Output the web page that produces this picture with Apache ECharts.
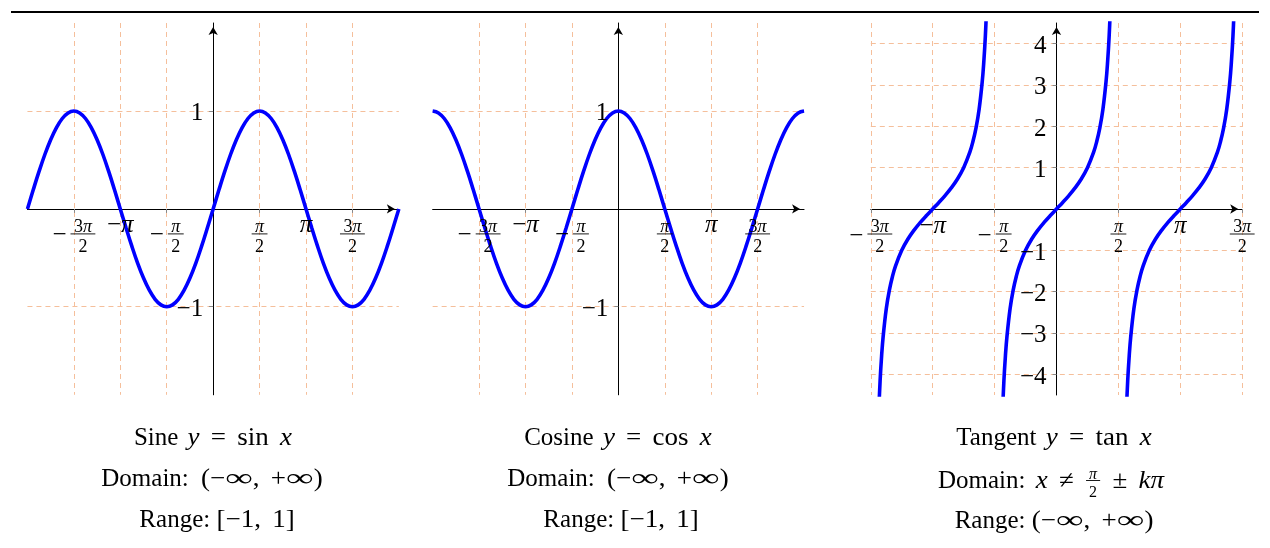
<!DOCTYPE html>
<html><head><meta charset="utf-8">
<script src="https://cdn.jsdelivr.net/npm/echarts@6/dist/echarts.min.js"></script>
<style>html,body{margin:0;padding:0;background:#fff}#c{width:1270px;height:548px}</style>
</head><body><div id="c"></div>
<script>
// ---------- DATA (x measured in units of π/2) ----------
const trigX = [-4,-3.875,-3.75,-3.625,-3.5,-3.375,-3.25,-3.125,-3,-2.875,-2.75,-2.625,-2.5,-2.375,-2.25,-2.125,
               -2,-1.875,-1.75,-1.625,-1.5,-1.375,-1.25,-1.125,-1,-0.875,-0.75,-0.625,-0.5,-0.375,-0.25,-0.125,
               0,0.125,0.25,0.375,0.5,0.625,0.75,0.875,1,1.125,1.25,1.375,1.5,1.625,1.75,1.875,
               2,2.125,2.25,2.375,2.5,2.625,2.75,2.875,3,3.125,3.25,3.375,3.5,3.625,3.75,3.875,4];
const sineY = [0,0.195,0.383,0.556,0.707,0.831,0.924,0.981,1,0.981,0.924,0.831,0.707,0.556,0.383,0.195,
               0,-0.195,-0.383,-0.556,-0.707,-0.831,-0.924,-0.981,-1,-0.981,-0.924,-0.831,-0.707,-0.556,-0.383,-0.195,
               0,0.195,0.383,0.556,0.707,0.831,0.924,0.981,1,0.981,0.924,0.831,0.707,0.556,0.383,0.195,
               0,-0.195,-0.383,-0.556,-0.707,-0.831,-0.924,-0.981,-1,-0.981,-0.924,-0.831,-0.707,-0.556,-0.383,-0.195,0];
const cosineY = [1,0.981,0.924,0.831,0.707,0.556,0.383,0.195,0,-0.195,-0.383,-0.556,-0.707,-0.831,-0.924,-0.981,
                 -1,-0.981,-0.924,-0.831,-0.707,-0.556,-0.383,-0.195,0,0.195,0.383,0.556,0.707,0.831,0.924,0.981,
                 1,0.981,0.924,0.831,0.707,0.556,0.383,0.195,0,-0.195,-0.383,-0.556,-0.707,-0.831,-0.924,-0.981,
                 -1,-0.981,-0.924,-0.831,-0.707,-0.556,-0.383,-0.195,0,0.195,0.383,0.556,0.707,0.831,0.924,0.981,1];
const tanOffsets = [-0.875,-0.85,-0.825,-0.8,-0.75,-0.7,-0.65,-0.6,-0.5,-0.4,-0.3,-0.2,-0.1,0,
                    0.1,0.2,0.3,0.4,0.5,0.6,0.65,0.7,0.75,0.8,0.825,0.85,0.875];
const tanValues = [-5.027,-4.165,-3.546,-3.078,-2.414,-1.963,-1.632,-1.376,-1,-0.727,-0.51,-0.325,-0.158,0,
                   0.158,0.325,0.51,0.727,1,1.376,1.632,1.963,2.414,3.078,3.546,4.165,5.027];
const tanBranchCenters = [-2, 0, 2];

const xTickUnits = [-3,-2,-1,1,2,3];
const xTickLabels = ['−3π/2','−π','−π/2','π/2','π','3π/2'];
const trigYTicks = [-1, 1];
const tanYTicks = [-4,-3,-2,-1,1,2,3,4];

const captionLines = [
  ['Sine $y = sin x$', 'Domain: $(−∞, +∞)$', 'Range: $[−1, 1]$'],
  ['Cosine $y = cos x$', 'Domain: $(−∞, +∞)$', 'Range: $[−1, 1]$'],
  ['Tangent $y = tan x$', 'Domain: $x ≠ {π/2} ± kπ$', 'Range: $(−∞, +∞)$']
];

// ---------- text helpers ----------
const FAM = '"Liberation Serif", "Times New Roman", serif';
const mctx = document.createElement('canvas').getContext('2d');
function fontStr(size, italic){ return (italic ? 'italic ' : '') + size + 'px ' + FAM; }
function measure(t, size, italic){ mctx.font = fontStr(size, italic); return mctx.measureText(t).width; }
function T(text, x, baseline, size, italic, align, sx){
  align = align || 'left';
  const el = {type:'text', x:x, y: baseline - 0.22*size, silent:true,
    style:{text:text, font:fontStr(size, italic), fill:'#000',
           align:align, textAlign:align, verticalAlign:'middle', textVerticalAlign:'middle'}};
  if (sx) { el.scaleX = sx; el.originX = 0; el.originY = 0; }
  return el;
}
function mathRuns(s){ return (s.match(/π+|[^π]+/g) || []).map(r => ({t:r, it:r.indexOf('π') >= 0})); }
function runsWidth(runs, size){ return runs.reduce((a,r) => a + measure(r.t, size, r.it), 0); }
function drawRuns(runs, left, baseline, size){
  const els = []; let x = left;
  runs.forEach(r => { els.push(T(r.t, x, baseline, size, r.it, 'left')); x += measure(r.t, size, r.it); });
  return els;
}
function fraction(num, den, cx, barY, size){
  const nr = mathRuns(num), dr = mathRuns(den);
  const nw = runsWidth(nr, size), dw = runsWidth(dr, size);
  const bw = Math.max(nw, dw) + 0.38*size;
  let els = [];
  els = els.concat(drawRuns(nr, cx - nw/2, barY - 2.5, size));
  els = els.concat(drawRuns(dr, cx - dw/2, barY + 5 + 0.66*size, size));
  els.push({type:'line', silent:true, shape:{x1:cx - bw/2, y1:barY, x2:cx + bw/2, y2:barY},
            style:{stroke:'#000', lineWidth:0.9}});
  return {els:els, width:bw};
}
function fracWidth(num, den, size){
  return Math.max(runsWidth(mathRuns(num), size), runsWidth(mathRuns(den), size)) + 0.38*size;
}

// axis tick label (drawn at pixel px,py of the tick on the x axis)
const MAIN = 25, SCRIPT = 18;
function tickLabelEls(lab, px, py){
  const neg = lab.charAt(0) === '−';
  const body = neg ? lab.slice(1) : lab;
  const els = [];
  if (body.indexOf('/') >= 0) {
    const parts = body.split('/');
    const fw = fracWidth(parts[0], parts[1], SCRIPT);
    const mw = neg ? measure('−', MAIN, false) : 0;
    const gap = neg ? 4 : 0;
    const total = mw + gap + fw;
    const left = px - total/2;
    const barY = py + 25;
    if (neg) els.push(T('−', left, barY + 0.3*MAIN, MAIN, false, 'left'));
    const f = fraction(parts[0], parts[1], left + mw + gap + fw/2, barY, SCRIPT);
    return els.concat(f.els);
  } else {
    const runs = mathRuns(lab);
    const w = runsWidth(runs, MAIN);
    return drawRuns(runs, px - w/2, py + 22.5, MAIN);
  }
}
function yLabelEls(v, px, py){
  const s = v < 0 ? '\u2212' + (-v) : String(v);
  return [T(s, px - 10, py + 0.33*MAIN, MAIN, false, 'right')];
}

// caption: words at natural width; math with wide ∞ and roomier spaces
const CAP = 25, CAPFRAC = 16, GLYPH = 1.08, INF = 1.55, SPACE_PLUS = 5;
function mathItems(m){
  return (m.match(/sin|cos|tan|\{[^}]+\}|\s+|./g) || []).map(t => {
    if (/^\s+$/.test(t)) return {kind:'s', w:measure(t, CAP, false) + SPACE_PLUS};
    if (t === 'sin' || t === 'cos' || t === 'tan') return {kind:'t', t:t, it:false, sx:GLYPH, w:measure(t, CAP, false)*GLYPH};
    if (t.charAt(0) === '{') { const p = t.slice(1,-1).split('/'); return {kind:'f', num:p[0], den:p[1], w:fracWidth(p[0], p[1], CAPFRAC) + 2}; }
    if (t === '∞') return {kind:'t', t:t, it:false, sx:INF, w:measure(t, CAP, false)*INF};
    if (/^[A-Za-zπ]$/.test(t)) return {kind:'t', t:t, it:true, sx:GLYPH, w:measure(t, CAP, true)*GLYPH};
    return {kind:'t', t:t, it:false, sx:GLYPH, w:measure(t, CAP, false)*GLYPH};
  });
}
function captionEls(str, cx, baseline, gapExtra){
  const i0 = str.indexOf('$');
  const text = str.slice(0, i0);
  const math = str.slice(i0 + 1, str.lastIndexOf('$'));
  const textW = measure(text, CAP, false) + gapExtra;
  const items = mathItems(math);
  const mathW = items.reduce((a,i) => a + i.w, 0);
  const left = cx - (textW + mathW)/2;
  let els = [T(text, left, baseline, CAP, false, 'left')];
  let x = left + textW;
  items.forEach(it => {
    if (it.kind === 't') els.push(T(it.t, x, baseline, CAP, it.it, 'left', it.sx));
    else if (it.kind === 'f') els = els.concat(fraction(it.num, it.den, x + it.w/2, baseline - 0.26*CAP, CAPFRAC).els);
    x += it.w;
  });
  return els;
}

// ---------- chart ----------
const chart = echarts.init(document.getElementById('c'), null, {renderer:'canvas'});
const GRID_W = 371.4;
const panels = [
  {left:27.45, top:23, height:371.8, xmin:-4, xmax:4, ymin:-1.9, ymax:1.9, yTicks:trigYTicks},
  {left:432.65, top:23, height:371.8, xmin:-4, xmax:4, ymin:-1.9, ymax:1.9, yTicks:trigYTicks},
  {left:870.8, top:23, height:372, xmin:-3, xmax:3, ymin:-4.5, ymax:4.5, yTicks:tanYTicks}
];
const gridColor = '#f5bf9b';
const axisLineStyle = {color:'#000', width:1};

const xAxes = panels.map((p, i) => ({
  type:'value', gridIndex:i, min:p.xmin, max:p.xmax,
  axisLine:{show:true, onZero:true, symbol:['none','arrow'], symbolSize:[7,8], symbolOffset:[0,-4], lineStyle:axisLineStyle},
  axisTick:{show:true, customValues:xTickUnits, length:4, lineStyle:{color:'#888', width:1}},
  axisLabel:{show:false},
  splitLine:{show:true, lineStyle:{color:gridColor, width:1, type:[5,4]}}
}));
const yAxes = panels.map((p, i) => ({
  type:'value', gridIndex:i, min:p.ymin, max:p.ymax,
  axisLine:{show:true, onZero:true, symbol:['none','arrow'], symbolSize:[7,8], symbolOffset:[0,-4], lineStyle:axisLineStyle},
  axisTick:{show:true, customValues:p.yTicks, length:4, lineStyle:{color:'#888', width:1}},
  axisLabel:{show:false},
  splitLine:{show:true, lineStyle:{color:gridColor, width:1, type:[5,4]}}
}));

const curveStyle = {color:'#0000ff', width:3.6};
const series = [];
series.push({type:'line', xAxisIndex:0, yAxisIndex:0, data:trigX.map((x,i) => [x, sineY[i]]),
  showSymbol:false, smooth:0.4, lineStyle:curveStyle, itemStyle:{color:'#0000ff'}, silent:true, z:3});
series.push({type:'line', xAxisIndex:1, yAxisIndex:1, data:trigX.map((x,i) => [x, cosineY[i]]),
  showSymbol:false, smooth:0.4, lineStyle:curveStyle, itemStyle:{color:'#0000ff'}, silent:true, z:3});
tanBranchCenters.forEach(c => {
  series.push({type:'line', xAxisIndex:2, yAxisIndex:2, data:tanOffsets.map((o,i) => [c + o, tanValues[i]]),
    showSymbol:false, smooth:0.4, lineStyle:curveStyle, itemStyle:{color:'#0000ff'}, silent:true, z:3});
});
panels.forEach((p, gi) => {
  series.push({type:'custom', xAxisIndex:gi, yAxisIndex:gi, clip:false, silent:true, z:5,
    data:xTickUnits.map((u,i) => [u, 0, i]),
    renderItem:(params, api) => {
      const c = api.coord([api.value(0), 0]);
      return {type:'group', children:tickLabelEls(xTickLabels[api.value(2)], c[0], c[1])};
    }});
  series.push({type:'custom', xAxisIndex:gi, yAxisIndex:gi, clip:false, silent:true, z:5,
    data:p.yTicks.map(v => [0, v]),
    renderItem:(params, api) => {
      const c = api.coord([0, api.value(1)]);
      return {type:'group', children:yLabelEls(api.value(1), c[0], c[1])};
    }});
});

const captionCenters = [[213,212,217],[618,618,621],[1054,1051,1054]];
const captionBaselines = [[444,485,526],[444,485,526],[444,487,527]];
const captionGap = [[3,6,0],[3,6,0],[3,4,0]];
let graphics = [{type:'line', silent:true, shape:{x1:11, y1:12, x2:1259, y2:12}, style:{stroke:'#000', lineWidth:2}}];
captionLines.forEach((lines, pi) => {
  lines.forEach((ln, li) => {
    graphics = graphics.concat(captionEls(ln, captionCenters[pi][li], captionBaselines[pi][li], captionGap[pi][li]));
  });
});

chart.setOption({
  animation:false,
  grid:panels.map(p => ({left:p.left, top:p.top, width:GRID_W, height:p.height, containLabel:false, outerBoundsMode:'none'})),
  xAxis:xAxes, yAxis:yAxes, series:series, graphic:graphics
});
</script></body></html>
